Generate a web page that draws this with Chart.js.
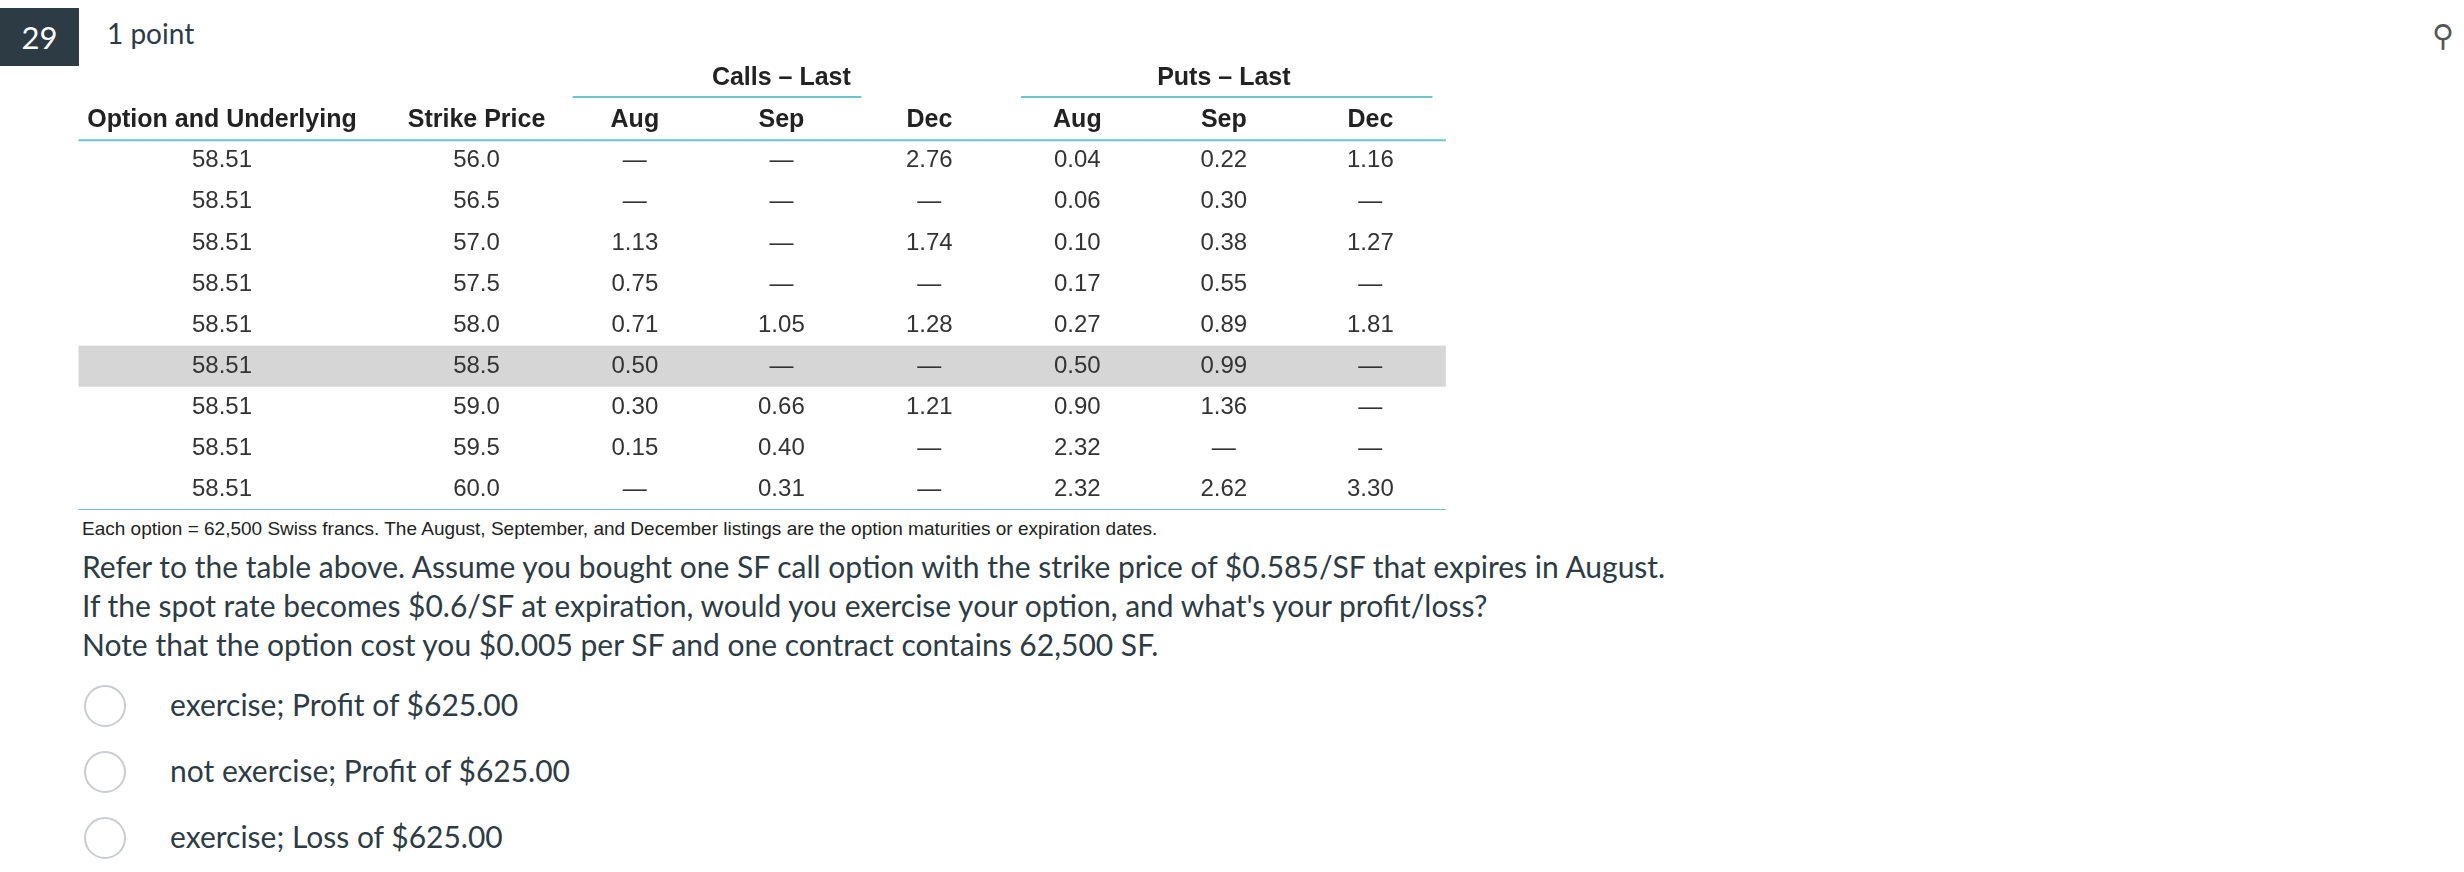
<!DOCTYPE html>
<html><head><meta charset="utf-8">
<script src="https://cdn.jsdelivr.net/npm/chart.js@4"></script>
<style>
body{margin:0;width:2464px;height:872px;background:#fff;position:relative;overflow:hidden;font-family:Lato,sans-serif;color:#2d3b45}
#num{position:absolute;left:0;top:8px;width:79px;height:58px;background:#2d3b45;color:#fff;font-size:31px;line-height:58px;text-align:center}
#pts{position:absolute;left:107px;top:16px;font-size:28px;color:#2d3b45}
#pin{position:absolute;left:2432px;top:16px;font-size:30px;color:#555}
#wrap{position:absolute;left:0;top:58px;width:2464px;height:452px}
#foot{position:absolute;left:82px;top:518px;font-family:"Liberation Sans",sans-serif;font-size:19px;color:#222}
.q{position:absolute;left:82px;font-size:30px;color:#2d3b45}
.opt{position:absolute;left:170px;font-size:30px;color:#2d3b45}
.rad{position:absolute;left:84px;width:38px;height:38px;border:2px solid #c7cdd1;border-radius:50%}
</style></head><body>
<div id="num">29</div><div id="pts">1 point</div><div id="pin">⚲</div>
<div id="wrap"><canvas id="c"></canvas></div>
<div id="foot">Each option = 62,500 Swiss francs. The August, September, and December listings are the option maturities or expiration dates.</div>
<div class="q" style="top:548px">Refer to the table above. Assume you bought one SF call option with the strike price of $0.585/SF that expires in August.</div>
<div class="q" style="top:587px">If the spot rate becomes $0.6/SF at expiration, would you exercise your option, and what's your profit/loss?</div>
<div class="q" style="top:626px">Note that the option cost you $0.005 per SF and one contract contains 62,500 SF.</div>
<div class="rad" style="top:685px"></div><div class="opt" style="top:686px">exercise; Profit of $625.00</div>
<div class="rad" style="top:751px"></div><div class="opt" style="top:752px">not exercise; Profit of $625.00</div>
<div class="rad" style="top:817px"></div><div class="opt" style="top:818px">exercise; Loss of $625.00</div>
<script>
const groupHeaders = ["Calls – Last", "Puts – Last"];
const columns = ["Option and Underlying","Strike Price","Aug","Sep","Dec","Aug","Sep","Dec"];
const underlying = ["58.51","58.51","58.51","58.51","58.51","58.51","58.51","58.51","58.51"];
const strikes = ["56.0","56.5","57.0","57.5","58.0","58.5","59.0","59.5","60.0"];
const callsAug = ["—","—","1.13","0.75","0.71","0.50","0.30","0.15","—"];
const callsSep = ["—","—","—","—","1.05","—","0.66","0.40","0.31"];
const callsDec = ["2.76","—","1.74","—","1.28","—","1.21","—","—"];
const putsAug = ["0.04","0.06","0.10","0.17","0.27","0.50","0.90","2.32","2.32"];
const putsSep = ["0.22","0.30","0.38","0.55","0.89","0.99","1.36","—","2.62"];
const putsDec = ["1.16","—","1.27","—","1.81","—","—","—","3.30"];
const highlightRow = 5;

// layout (column slot positions on the x scale)
const colX = [0,1.72,2.79,3.78,4.78,5.78,6.77,7.76];
const cols = [underlying,strikes,callsAug,callsSep,callsDec,putsAug,putsSep,putsDec];
const cells = [];
cols.forEach((arr,ci)=>arr.forEach((v,ri)=>cells.push({x:colX[ci],y:ri+2,t:v})));

const tablePlugin = {id:'tbl',afterDatasetsDraw(ch){
  const c=ch.ctx, X=ch.scales.x, Y=ch.scales.y;
  const px=v=>X.getPixelForValue(v), py=v=>Y.getPixelForValue(v);
  c.save();
  // highlight
  c.fillStyle='#d6d6d6';
  c.fillRect(px(-0.97),py(highlightRow+1.5),px(8.27)-px(-0.97),py(highlightRow+2.5)-py(highlightRow+1.5));
  c.textAlign='center';c.textBaseline='middle';
  c.fillStyle='#222';c.font='bold 25px "Liberation Sans", sans-serif';
  c.fillText(groupHeaders[0],px(3.78),py(0));
  c.fillText(groupHeaders[1],px(6.77),py(0));
  columns.forEach((h,i)=>c.fillText(h,px(colX[i]),py(1)));
  c.font='24px "Liberation Sans", sans-serif';c.fillStyle='#333';
  cells.forEach(d=>c.fillText(d.t,px(d.x),py(d.y)));
  c.strokeStyle='#6cc4cc';c.lineWidth=2;
  const hl=(a,b,y)=>{c.beginPath();c.moveTo(px(a),py(y));c.lineTo(px(b),py(y));c.stroke();};
  hl(2.37,4.32,0.45);hl(5.40,8.18,0.45);
  hl(-0.97,8.27,1.5);hl(-0.97,8.27,10.5);
  c.restore();
}};
new Chart(document.getElementById('c'),{
  type:'scatter',
  data:{datasets:[{data:cells,pointRadius:0}]},
  options:{responsive:true,maintainAspectRatio:false,animation:false,
    layout:{padding:0},
    plugins:{legend:{display:false},tooltip:{enabled:false}},
    scales:{x:{type:'linear',display:false,min:-1.5,max:15.15},
            y:{type:'linear',display:false,min:-0.5,max:10.5,reverse:true}}},
  plugins:[tablePlugin]
});
</script>
</body></html>
